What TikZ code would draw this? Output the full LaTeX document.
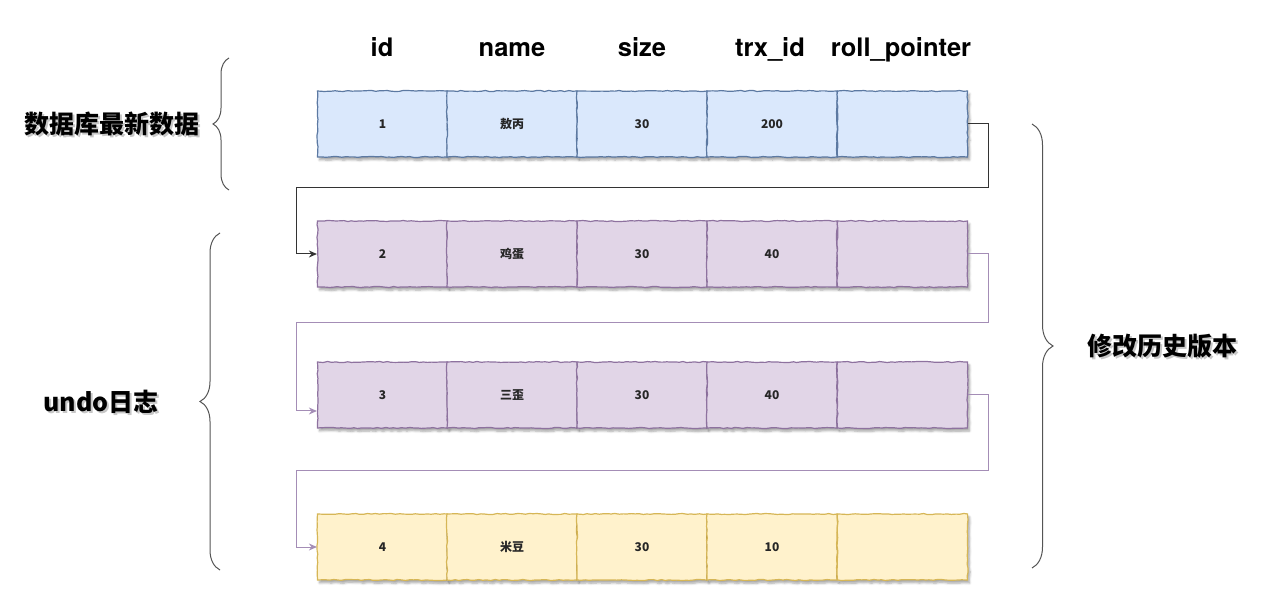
\documentclass[tikz,border=0pt]{standalone}
\usepackage{fontspec}
\setmainfont{Noto Sans CJK SC}
\newfontfamily\headfont{TeX Gyre Heros}
\usetikzlibrary{decorations.pathmorphing,decorations.pathreplacing,shadows.blur,arrows.meta}

\definecolor{blueF}{HTML}{DAE8FC}\definecolor{blueD}{HTML}{6C8EBF}
\definecolor{purpF}{HTML}{E1D5E7}\definecolor{purpD}{HTML}{8E729F}
\definecolor{yellF}{HTML}{FFF2CC}\definecolor{yellD}{HTML}{D6B656}
\definecolor{braceC}{HTML}{555555}
\definecolor{linkP}{HTML}{A48DB6}

% bold label with a soft drop shadow behind it
\newcommand\shadowtxt[1]{\makebox[0pt][l]{\raisebox{-2.5pt}{\hspace{2pt}\textcolor{black!22}{#1}}}#1}

\tikzset{
  cell/.style={rectangle, inner sep=0pt, minimum width=130pt, minimum height=66pt,
    line width=1.2pt, font=\fontsize{12}{14}\selectfont\bfseries, text=black!85,
    decoration={random steps, segment length=4pt, amplitude=0.55pt}, decorate,
    blur shadow={shadow xshift=2pt, shadow yshift=-3pt, shadow blur steps=6, shadow opacity=35}},
  cellA/.style={cell, fill=blueF, draw=blueD!85!black},
  cellB/.style={cell, fill=purpF, draw=purpD},
  cellC/.style={cell, fill=yellF, draw=yellD},
  head/.style={font=\headfont\bfseries\fontsize{25.5}{30}\selectfont, anchor=base},
  lbl/.style={font=\fontsize{25}{30}\selectfont\bfseries},
  bracket/.style={draw=braceC, line width=1pt, decorate},
  link/.style={line width=1pt, -{Stealth[length=8pt,width=7pt]}},
}

\begin{document}
\begin{tikzpicture}[x=1pt, y=-1pt]
\pgfmathsetseed{7}
\useasboundingbox (0,0) rectangle (1272,609);

% column headers
\node[head] (hid)   at (382,57) {id};
\node[head] (hname) at (512,57) {name};
\node[head] (hsize) at (642,57) {size};
\node[head] (htrx)  at (770,57) {trx\_id};
\node[head] (hroll) at (901,57) {roll\_pointer};

% newest row (table data)
\node[cellA] (a1) at (382.5,124) {1};
\node[cellA] (a2) at (512,124) {敖丙};
\node[cellA] (a3) at (642,124) {30};
\node[cellA] (a4) at (772,124) {200};
\node[cellA] (a5) at (902.5,124) {};

% undo log versions
\node[cellB] (b1) at (382.5,254) {2};
\node[cellB] (b2) at (512,254) {鸡蛋};
\node[cellB] (b3) at (642,254) {30};
\node[cellB] (b4) at (772,254) {40};
\node[cellB] (b5) at (902.5,254) {};

\node[cellB] (c1) at (382.5,395) {3};
\node[cellB] (c2) at (512,395) {三歪};
\node[cellB] (c3) at (642,395) {30};
\node[cellB] (c4) at (772,395) {40};
\node[cellB] (c5) at (902.5,395) {};

\node[cellC] (d1) at (382.5,547) {4};
\node[cellC] (d2) at (512,547) {米豆};
\node[cellC] (d3) at (642,547) {30};
\node[cellC] (d4) at (772,547) {10};
\node[cellC] (d5) at (902.5,547) {};

% roll_pointer chain
\coordinate (j1) at (988,188);  \coordinate (k1) at (296,188);
\coordinate (j2) at (988,323);  \coordinate (k2) at (296,323);
\coordinate (j3) at (988,470);  \coordinate (k3) at (296,470);
\draw[link, draw=black!80] (a5.east) -| (j1) -- (k1) |- (b1.west);
\draw[link, draw=linkP] (b5.east) -| (j2) -- (k2) |- ([yshift=-16pt]c1.west);
\draw[link, draw=linkP] (c5.east) -| (j3) -- (k3) |- (d1.west);

% braces and their captions
\coordinate (p1) at (229,190); \coordinate (q1) at (229,58);
\coordinate (p2) at (220,570); \coordinate (q2) at (220,233);
\coordinate (p3) at (1032,124); \coordinate (q3) at (1032,568);
\draw[bracket, decoration={brace, amplitude=16pt}] (p1) -- (q1);
\draw[bracket, decoration={brace, amplitude=20pt, aspect=0.5}] (p2) -- (q2);
\draw[bracket, decoration={brace, amplitude=21pt, aspect=0.5}] (p3) -- (q3);

\node[lbl] (L1) at (112,125) {\shadowtxt{数据库最新数据}};
\node[lbl] (L2) at (101,403) {\shadowtxt{undo日志}};
\node[lbl] (L3) at (1162,347) {\shadowtxt{修改历史版本}};
\end{tikzpicture}
\end{document}
